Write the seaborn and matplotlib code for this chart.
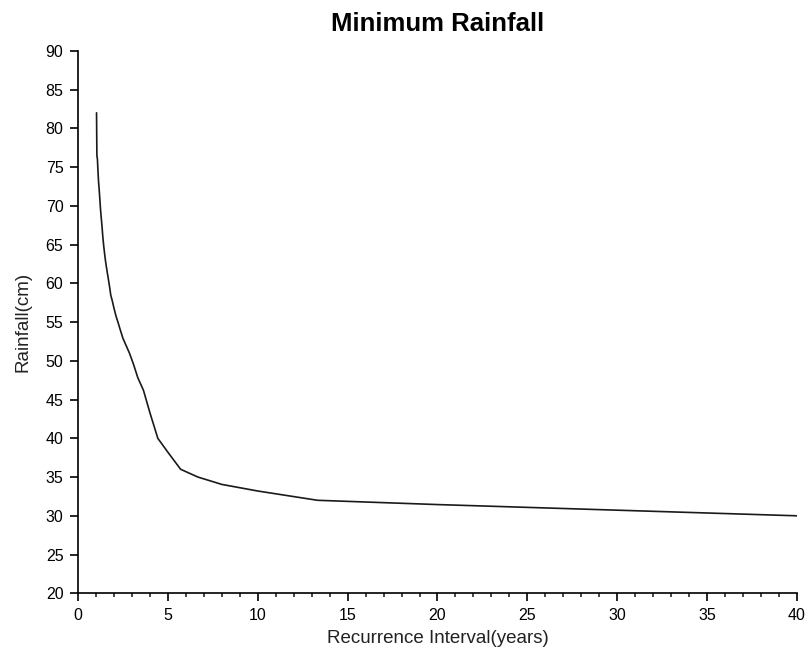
import matplotlib
matplotlib.use("Agg")
import matplotlib.pyplot as plt
from matplotlib.ticker import MultipleLocator
import seaborn as sns
import pandas as pd

# Recurrence interval (years) and minimum rainfall (cm)
recurrence_years = [40.0, 20.0, 13.33, 10.0, 8.0, 6.67, 5.71, 5.0, 4.44, 4.0,
                    3.64, 3.33, 3.08, 2.86, 2.67, 2.5, 2.35, 2.22, 2.11, 2.0,
                    1.9, 1.82, 1.74, 1.67, 1.6, 1.54, 1.48, 1.43, 1.38, 1.33,
                    1.29, 1.25, 1.21, 1.18, 1.14, 1.11, 1.08, 1.05, 1.03]
rainfall_cm = [30.0, 31.45, 32.0, 33.2, 34.05, 35.0, 36.0, 38.2, 40.0, 43.3,
               46.2, 47.8, 49.6, 51.0, 52.0, 52.9, 54.0, 55.0, 55.8, 56.8,
               57.8, 58.5, 59.8, 60.8, 61.8, 62.7, 63.8, 64.8, 66.0, 67.5,
               68.5, 69.6, 71.0, 72.0, 73.2, 74.5, 76.0, 76.5, 82.0]
x_ticks = [0, 5, 10, 15, 20, 25, 30, 35, 40]
y_ticks = [20, 25, 30, 35, 40, 45, 50, 55, 60, 65, 70, 75, 80, 85, 90]

df = pd.DataFrame({"Recurrence": recurrence_years, "Rainfall": rainfall_cm})

sns.set_style("ticks")
plt.rcParams["font.family"] = ["Liberation Sans", "DejaVu Sans"]
plt.rcParams["text.color"] = "black"
plt.rcParams["axes.labelcolor"] = "black"

fig = plt.figure(figsize=(8.11, 6.55), dpi=100)
ax = fig.add_axes([0.0962, 0.0942, 0.8865, 0.8282])

sns.lineplot(data=df, x="Recurrence", y="Rainfall", ax=ax, color="#1a1a1a",
             linewidth=1.2, sort=True, estimator=None)

ax.set_xlim(0, 40)
ax.set_ylim(20, 90)
ax.set_xticks(x_ticks)
ax.set_yticks(y_ticks)
ax.xaxis.set_minor_locator(MultipleLocator(1))
ax.tick_params(axis="both", which="major", direction="out", length=6, width=1.2,
               labelsize=11.5, colors="black", pad=4.5)
ax.tick_params(axis="x", which="minor", direction="out", length=3, width=1.2)
sns.despine(ax=ax)
for s in ("left", "bottom"):
    ax.spines[s].set_color("black")
    ax.spines[s].set_linewidth(1.2)

ax.set_xlabel("Recurrence Interval(years)", fontsize=13.5, labelpad=5, color="#222222")
ax.set_ylabel("Rainfall(cm)", fontsize=13.5, labelpad=10, color="#222222")
ax.set_title("Minimum Rainfall", fontsize=18.5, fontweight="bold", pad=14, color="black")

fig.savefig("out.png", dpi=100, facecolor="white")
